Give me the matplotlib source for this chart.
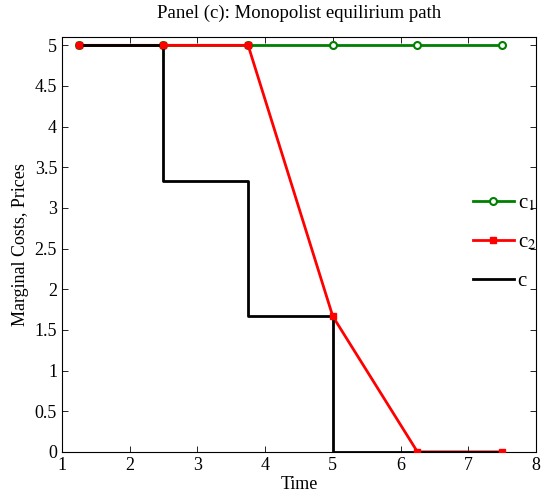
import numpy as np
import matplotlib
matplotlib.use("Agg")
import matplotlib.pyplot as plt
from matplotlib.lines import Line2D

plt.rcParams['font.family'] = ['Liberation Serif', 'DejaVu Serif']
plt.rcParams['mathtext.fontset'] = 'stix'

# data
t = [1.25, 2.5, 3.75, 5.0, 6.25, 7.5]
c1 = [5, 5, 5, 5, 5, 5]
c2 = [5, 5, 5, 1.667, 0, 0]
c = [5, 3.333, 1.667, 0, 0, 0]
xticks = [1, 2, 3, 4, 5, 6, 7, 8]
yticks = [0, 0.5, 1, 1.5, 2, 2.5, 3, 3.5, 4, 4.5, 5]
ylabels = ['0', '0.5', '1', '1.5', '2', '2.5', '3', '3.5', '4', '4.5', '5']

fig = plt.figure(figsize=(5.43, 4.96), dpi=100)
ax = fig.add_axes([0.114, 0.089, 0.873, 0.836])

ax.plot(t, c1, color='#008000', lw=2, marker='o', ms=5, mfc='white', mec='#008000', mew=1.5, zorder=2)
ax.plot(t, c2, color='red', lw=2, zorder=3)
ax.step(t, c, where='post', color='black', lw=2, zorder=4)
ax.plot(t, c2, ls='none', marker='s', ms=5, color='red', zorder=5)

ax.set_xlim(1, 8)
ax.set_ylim(0, 5.1)
ax.set_xticks(xticks)
ax.set_yticks(yticks)
ax.set_yticklabels(ylabels)
ax.tick_params(direction='in', top=True, right=True, labelsize=13, length=4, width=0.6)
ax.set_title('Panel (c): Monopolist equilirium path', fontsize=13.5, pad=14)
ax.set_xlabel('Time', fontsize=13, labelpad=2)
ax.set_ylabel('Marginal Costs, Prices', fontsize=13, labelpad=4)

handles = [
    Line2D([], [], color='#008000', lw=2, marker='o', ms=5, mfc='white', mew=1.5),
    Line2D([], [], color='red', lw=2, marker='s', ms=5),
    Line2D([], [], color='black', lw=2),
]
fig.legend(handles, ['c$_1$', 'c$_2$', 'c'], loc='upper left',
           bbox_to_anchor=(0.871, 0.61), frameon=False, fontsize=15,
           handlelength=1.95, handletextpad=0.2, labelspacing=0.94,
           borderpad=0, borderaxespad=0)

fig.savefig('out.png', dpi=100)
